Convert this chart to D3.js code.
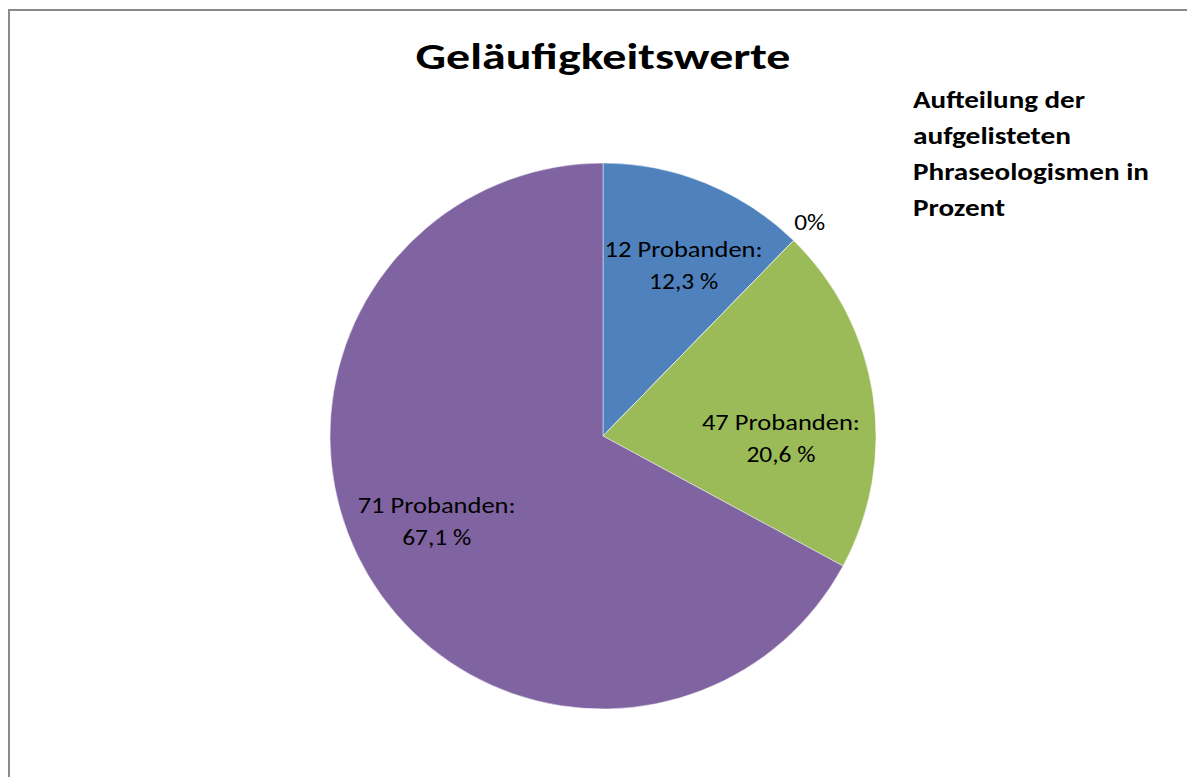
<!DOCTYPE html>
<html>
<head>
<meta charset="utf-8">
<script src="https://d3js.org/d3.v7.min.js"></script>
<style>
  body { margin: 0; background: #fff; }
  svg { display: block; font-family: Carlito, Calibri, Lato, "Open Sans", sans-serif; }
</style>
</head>
<body>
<svg id="chart"></svg>
<script>
// Data
const categories = ["12 Probanden", "0 Probanden", "47 Probanden", "71 Probanden"];
const percents = [12.3, 0, 20.6, 67.1];
const labelLines = [["12 Probanden:", "12,3 %"], ["0%"], ["47 Probanden:", "20,6 %"], ["71 Probanden:", "67,1 %"]];
const colors = ["#4F81BD", "#C0504D", "#9BBB59", "#8064A2"];
const title = "Geläufigkeitswerte";
const legendLines = ["Aufteilung der", "aufgelisteten", "Phraseologismen in", "Prozent"];

const W = 1187, H = 777;
const cx = 603, cy = 436, R = 273;

const svg = d3.select("#chart").attr("width", W).attr("height", H);

// chart frame (runs off the bottom/right like the screenshot)
svg.append("rect")
    .attr("x", 9).attr("y", 10)
    .attr("width", 1300).attr("height", 900)
    .attr("fill", "none")
    .attr("stroke", "#8a8a8a")
    .attr("stroke-width", 2);

// the screenshot's text is wider than the local fonts, so stretch to measured widths
function fitWidth(sel, w) {
    sel.attr("textLength", w).attr("lengthAdjust", "spacingAndGlyphs");
}

// title
svg.append("text")
    .attr("x", cx).attr("y", 69)
    .attr("text-anchor", "middle")
    .attr("font-size", 36).attr("font-weight", "bold")
    .text(title)
    .call(fitWidth, 375);

const pie = d3.pie().sort(null).value(d => d);
const arcs = pie(percents);
const arc = d3.arc().innerRadius(0).outerRadius(R);

const g = svg.append("g").attr("transform", `translate(${cx},${cy})`);

g.selectAll("path")
    .data(arcs)
    .join("path")
    .attr("d", arc)
    .attr("fill", (d, i) => colors[i])
    .attr("stroke", "#ffffff")
    .attr("stroke-opacity", 0.6)
    .attr("stroke-width", 0.8);

// labels: inside ones near 2/3 radius, empty slice outside the pie
const inArc = d3.arc().innerRadius(182).outerRadius(182);
const outArc = d3.arc().innerRadius(296).outerRadius(296);
// Excel-style best-fit nudges
const nudge = [[12, 7], [0, 7], [-2, 38], [-10, 1]];

const labels = g.selectAll("text.lbl")
    .data(arcs)
    .join("text")
    .attr("class", "lbl")
    .attr("text-anchor", "middle")
    .attr("font-size", 22)
    .attr("fill", "#000")
    .attr("transform", (d, i) => {
        const c = d.value === 0 ? outArc.centroid(d) : inArc.centroid(d);
        return `translate(${c[0] + nudge[i][0]},${c[1] + nudge[i][1]})`;
    });

labels.each(function (d, i) {
    const lines = labelLines[i];
    const t = d3.select(this);
    lines.forEach((ln, k) => {
        const w = ln.length > 8 ? 158 : (ln.length > 3 ? 69 : 31);
        t.append("tspan")
            .attr("x", 0)
            .attr("y", (k - (lines.length - 1) / 2) * 32 - 1)
            .text(ln)
            .call(fitWidth, w);
    });
});

// legend title block
const legendWidths = [172, 158, 236, 92];
svg.append("text")
    .attr("font-size", 24).attr("font-weight", "bold")
    .selectAll("tspan")
    .data(legendLines)
    .join("tspan")
    .attr("x", 913)
    .attr("y", (d, i) => 108 + i * 36)
    .text(d => d)
    .each(function (d, i) { d3.select(this).call(fitWidth, legendWidths[i]); });
</script>
</body>
</html>
